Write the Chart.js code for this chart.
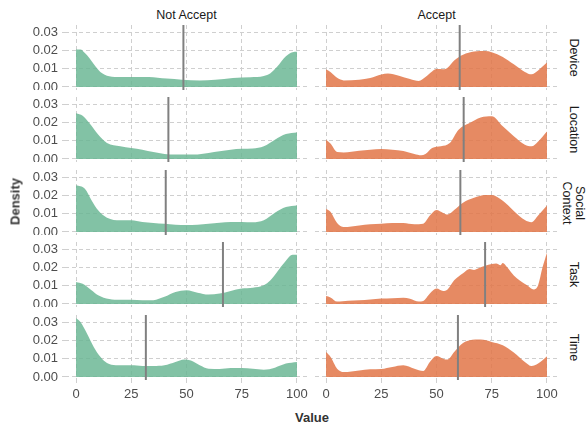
<!DOCTYPE html>
<html>
<head>
<meta charset="utf-8">
<script src="https://cdn.jsdelivr.net/npm/chart.js@4/dist/chart.umd.min.js"></script>
<style>
  body { margin: 0; background: #fff; font-family: "Liberation Sans", Arial, sans-serif; }
  #wrap { position: relative; width: 587px; height: 428px; overflow: hidden; }
  canvas { position: absolute; }
  .lbl { position: absolute; color: #1a1a1a; font-size: 12.5px; white-space: nowrap; }
  .strip { position: absolute; width: 80px; text-align: center; font-size: 12.5px; line-height: 13px; color: #1a1a1a; transform: rotate(90deg); }
  .title { position: absolute; font-size: 13px; font-weight: bold; color: #333; }
</style>
</head>
<body>
<div id="wrap"></div>
<script>
// facets
const categories = ['Device', 'Location', 'Social\nContext', 'Task', 'Time'];
const groups = ['Not Accept', 'Accept'];
const xTicks = [0, 25, 50, 75, 100];
const yTicks = [0, 0.01, 0.02, 0.03];

// density curves, [value, density]
const deviceNot = [[0,0.0205],[2,0.0205],[4,0.0185],[6,0.0158],[8,0.0125],[11,0.0082],[15,0.0059],[20,0.0055],[26,0.0055],[33,0.0055],[41,0.0046],[48,0.004],[56,0.0035],[63,0.0039],[71,0.0049],[79,0.0053],[85,0.006],[88,0.0075],[91,0.011],[95,0.0168],[98,0.019],[100,0.0192]];
const deviceAcc = [[0,0.0095],[2,0.0082],[5,0.005],[8,0.0036],[15,0.004],[20,0.0049],[25,0.0068],[28,0.0074],[33,0.0062],[38,0.0044],[42,0.0033],[45,0.0055],[48,0.0085],[50,0.0098],[53,0.0097],[55,0.0105],[58,0.0145],[62,0.0176],[67,0.0194],[72,0.0196],[75,0.019],[80,0.0164],[85,0.0124],[90,0.0082],[93,0.0069],[96,0.009],[100,0.0133]];
const locationNot = [[0,0.025],[3,0.0236],[6,0.0196],[10,0.0133],[14,0.0087],[20,0.0069],[25,0.006],[30,0.0051],[35,0.0038],[40,0.0027],[45,0.0024],[50,0.0024],[55,0.0025],[60,0.0033],[65,0.0042],[70,0.0051],[75,0.0056],[80,0.0057],[85,0.0069],[90,0.0105],[95,0.0136],[100,0.0145]];
const locationAcc = [[0,0.0105],[2,0.0084],[5,0.0038],[8,0.0036],[15,0.0045],[20,0.005],[25,0.0055],[30,0.005],[35,0.0044],[40,0.0027],[43,0.002],[45,0.0027],[48,0.006],[52,0.0069],[56,0.0087],[60,0.016],[65,0.0196],[70,0.0227],[75,0.0233],[80,0.0178],[85,0.0124],[90,0.0078],[93,0.0069],[96,0.0096],[100,0.015]];
const socialNot = [[0,0.0255],[4,0.0236],[7,0.0173],[10,0.0118],[14,0.0078],[20,0.0064],[25,0.0064],[30,0.0055],[35,0.0049],[40,0.0045],[45,0.004],[50,0.0038],[55,0.004],[60,0.0045],[65,0.005],[70,0.0055],[75,0.0055],[80,0.0053],[85,0.0064],[90,0.0105],[95,0.0136],[100,0.0145]];
const socialAcc = [[0,0.0127],[2,0.011],[5,0.0049],[8,0.0027],[15,0.0036],[20,0.0042],[25,0.0045],[30,0.0049],[35,0.0049],[40,0.0042],[44,0.0045],[47,0.009],[50,0.012],[53,0.0104],[55,0.0095],[58,0.012],[62,0.016],[67,0.0187],[72,0.0202],[75,0.0202],[80,0.017],[85,0.0115],[90,0.0065],[93,0.0053],[96,0.009],[100,0.0145]];
const taskNot = [[0,0.012],[3,0.011],[7,0.0075],[10,0.0048],[15,0.0027],[20,0.0023],[25,0.0023],[30,0.002],[35,0.0021],[40,0.0039],[45,0.0066],[50,0.0075],[55,0.0062],[60,0.0052],[65,0.0057],[70,0.0071],[75,0.0084],[80,0.0089],[85,0.0102],[88,0.0129],[92,0.0191],[95,0.0236],[98,0.0268],[100,0.0268]];
const taskAcc = [[0,0.0043],[2,0.0036],[5,0.0013],[10,0.0018],[15,0.0021],[20,0.0025],[25,0.003],[30,0.0032],[35,0.0034],[38,0.0029],[42,0.0013],[44,0.0016],[47,0.0057],[50,0.0084],[53,0.0071],[55,0.0079],[58,0.0129],[62,0.0168],[65,0.0191],[67,0.0186],[70,0.02],[72,0.0209],[75,0.0218],[77,0.0221],[79,0.0212],[80,0.0223],[82,0.02],[85,0.0155],[88,0.0125],[91,0.0102],[94,0.0079],[96,0.0102],[98,0.02],[100,0.028]];
const timeNot = [[0,0.032],[2,0.03],[5,0.0236],[8,0.0164],[11,0.011],[14,0.0076],[18,0.0064],[25,0.0064],[30,0.006],[35,0.006],[40,0.0064],[45,0.0082],[49,0.0096],[52,0.009],[56,0.0064],[60,0.0045],[65,0.0044],[70,0.0049],[75,0.0049],[80,0.0045],[85,0.004],[90,0.0051],[95,0.0073],[100,0.0082]];
const timeAcc = [[0,0.0136],[2,0.011],[5,0.0045],[8,0.0027],[15,0.0036],[20,0.0042],[25,0.0044],[30,0.0055],[35,0.0064],[40,0.0045],[44,0.0033],[47,0.0082],[50,0.0115],[53,0.01],[55,0.0095],[58,0.0136],[62,0.0185],[65,0.02],[70,0.0204],[75,0.0191],[80,0.0173],[85,0.0133],[90,0.0082],[93,0.006],[96,0.0073],[100,0.0113]];

// mean value per facet
const meanNot = [48.6, 41.8, 40.6, 66.5, 31.6];
const meanAcc = [60.5, 62.3, 60.8, 72, 59.7];

const curvesNot = [deviceNot, locationNot, socialNot, taskNot, timeNot];
const curvesAcc = [deviceAcc, locationAcc, socialAcc, taskAcc, timeAcc];
const fills = ['rgba(102,180,145,0.82)', 'rgba(226,118,72,0.85)'];

// layout
const rowTops = [25, 97, 170, 242, 315];
const panelH = 65;
const colLeft = [65, 315];
const panelW = 243;
const yAxisW = 65;
const xAxisH = 30;

const wrap = document.getElementById('wrap');

const meanLine = {
  id: 'meanLine',
  afterDatasetsDraw(chart, args, opts) {
    const { ctx, chartArea, scales } = chart;
    const px = scales.x.getPixelForValue(opts.value);
    ctx.save();
    ctx.strokeStyle = '#808080';
    ctx.lineWidth = 2;
    ctx.beginPath();
    ctx.moveTo(px, chartArea.top);
    ctx.lineTo(px, chartArea.bottom);
    ctx.stroke();
    ctx.restore();
  }
};

function makePanel(row, col) {
  const isLeft = col === 0;
  const isBottom = row === categories.length - 1;
  const curve = (isLeft ? curvesNot : curvesAcc)[row];
  const mean = (isLeft ? meanNot : meanAcc)[row];

  const cv = document.createElement('canvas');
  const w = panelW + (isLeft ? yAxisW : 0);
  const h = panelH + (isBottom ? xAxisH : 0);
  cv.width = w;
  cv.height = h;
  cv.style.left = (colLeft[col] - (isLeft ? yAxisW : 0)) + 'px';
  cv.style.top = rowTops[row] + 'px';
  wrap.appendChild(cv);

  const gridCol = '#cfcfcf';
  const tickFont = { family: 'Liberation Sans', size: 13 };

  new Chart(cv, {
    type: 'line',
    data: {
      datasets: [{
        data: curve.map(p => ({ x: p[0], y: p[1] })),
        fill: 'origin',
        backgroundColor: fills[col],
        borderWidth: 0,
        pointRadius: 0,
        cubicInterpolationMode: 'monotone'
      }]
    },
    options: {
      responsive: false,
      animation: false,
      events: [],
      layout: { padding: 0 },
      plugins: { legend: { display: false }, tooltip: { enabled: false }, meanLine: { value: mean } },
      scales: {
        x: {
          type: 'linear',
          min: -5, max: 105,
          afterBuildTicks: s => { s.ticks = xTicks.map(v => ({ value: v })); },
          afterFit: s => { s.height = isBottom ? xAxisH : 0; s.paddingLeft = 0; s.paddingRight = 0; },
          grid: { color: gridCol, lineWidth: 1, drawTicks: isBottom, tickLength: 3, tickColor: gridCol },
          border: { display: false, dash: [4, 3] },
          ticks: { display: isBottom, autoSkip: false, color: '#4d4d4d', font: tickFont, padding: 4, maxRotation: 0, callback: v => String(v) }
        },
        y: {
          min: -0.00164, max: 0.03382,
          afterBuildTicks: s => { s.ticks = yTicks.map(v => ({ value: v })); },
          afterFit: s => { s.width = isLeft ? yAxisW : 0; s.paddingTop = 0; s.paddingBottom = 0; },
          grid: { color: gridCol, lineWidth: 1, drawTicks: isLeft, tickLength: 3, tickColor: gridCol },
          border: { display: false, dash: [4, 3] },
          ticks: { display: isLeft, autoSkip: false, color: '#4d4d4d', font: tickFont, padding: 4, callback: v => v.toFixed(2) }
        }
      }
    },
    plugins: [meanLine]
  });
}

categories.forEach((c, r) => { makePanel(r, 0); makePanel(r, 1); });

// strip labels on top
groups.forEach((g, i) => {
  const d = document.createElement('div');
  d.className = 'lbl';
  d.textContent = g;
  d.style.top = '8px';
  d.style.left = (colLeft[i] + panelW / 2) + 'px';
  d.style.transform = 'translateX(-50%)';
  wrap.appendChild(d);
});

// strip labels on right
categories.forEach((c, r) => {
  const d = document.createElement('div');
  d.className = 'strip';
  d.innerHTML = c.replace('\n', '<br>');
  const lines = c.split('\n').length;
  const hh = 13 * lines;
  d.style.left = (573 - 40) + 'px';
  d.style.top = (rowTops[r] + panelH / 2 - hh / 2) + 'px';
  wrap.appendChild(d);
});

// axis titles
const yt = document.createElement('div');
yt.className = 'title';
yt.textContent = 'Density';
yt.style.left = '-15px';
yt.style.top = '194px';
yt.style.width = '60px';
yt.style.textAlign = 'center';
yt.style.transform = 'rotate(-90deg)';
wrap.appendChild(yt);

const xt = document.createElement('div');
xt.className = 'title';
xt.textContent = 'Value';
xt.style.left = '312px';
xt.style.top = '410px';
xt.style.transform = 'translateX(-50%)';
wrap.appendChild(xt);
</script>
</body>
</html>
